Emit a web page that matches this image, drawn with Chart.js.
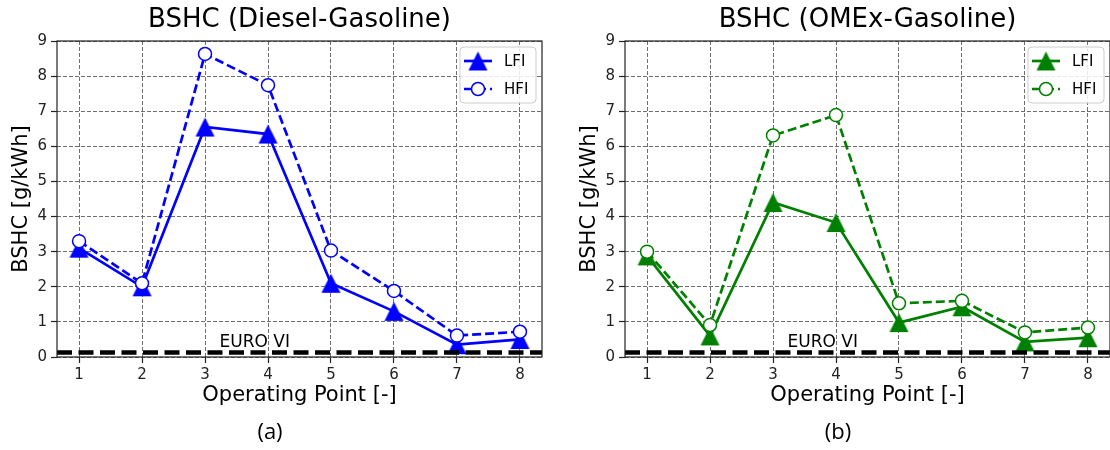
<!DOCTYPE html>
<html>
<head>
<meta charset="utf-8">
<title>BSHC</title>
<script src="https://cdn.jsdelivr.net/npm/chart.js"></script>
<style>
  body {
    margin: 0;
    width: 1110px;
    height: 450px;
    overflow: hidden;
    background: #ffffff;
    position: relative;
  }
  .panel {
    position: absolute;
    top: 0;
    width: 555px;
    height: 450px;
  }
  .caption {
    position: absolute;
    top: 415px;
    width: 100px;
    text-align: center;
    font-family: "Open Sans", sans-serif;
    font-size: 22px;
    line-height: 30px;
    color: #000;
  }
</style>
</head>
<body>
<div class="panel" style="left:0"><canvas id="chartA"></canvas></div>
<div class="panel" style="left:568px"><canvas id="chartB"></canvas></div>
<div class="caption" style="left:220px">(a)</div>
<div class="caption" style="left:788px">(b)</div>

<script>
  // values
  const operatingPoints = [1, 2, 3, 4, 5, 6, 7, 8];
  const dieselLFI = [3.1, 2.0, 6.55, 6.35, 2.1, 1.3, 0.35, 0.5];
  const dieselHFI = [3.3, 2.1, 8.63, 7.74, 3.03, 1.88, 0.61, 0.72];
  const omexLFI = [2.88, 0.6, 4.4, 3.83, 0.98, 1.43, 0.43, 0.55];
  const omexHFI = [3.0, 0.91, 6.31, 6.89, 1.53, 1.6, 0.7, 0.84];
  const yTicks = [0, 1, 2, 3, 4, 5, 6, 7, 8, 9];

  const EURO_VI_LIMIT = 0.13;
  const EURO_LABEL = 'EURO VI';
  const EURO_LABEL_X = 3.79;
  const EURO_LABEL_Y = 0.29;

  const FONT = '"DejaVu Sans", sans-serif';

  // matplotlib style '^' marker (square bbox, centred on the point)
  function triangleMarker(color, size) {
    const c = document.createElement('canvas');
    c.width = size + 2;
    c.height = size + 2;
    const g = c.getContext('2d');
    g.fillStyle = color;
    g.beginPath();
    g.moveTo(c.width / 2, 1);
    g.lineTo(c.width - 1, c.height - 1);
    g.lineTo(1, c.height - 1);
    g.closePath();
    g.fill();
    return c;
  }

  // spines + EURO VI limit line
  const framePlugin = {
    id: 'frame',
    afterDatasetsDraw(chart) {
      const { ctx, chartArea: a, scales } = chart;
      const yLim = scales.y.getPixelForValue(EURO_VI_LIMIT);
      ctx.save();
      ctx.strokeStyle = '#000';
      ctx.lineWidth = 4.5;
      ctx.setLineDash([15, 6.5]);
      ctx.beginPath();
      ctx.moveTo(a.left, yLim);
      ctx.lineTo(a.right, yLim);
      ctx.stroke();

      ctx.setLineDash([]);
      ctx.fillStyle = '#000';
      ctx.font = '17px ' + FONT;
      ctx.textAlign = 'center';
      ctx.textBaseline = 'alphabetic';
      ctx.fillText(EURO_LABEL, scales.x.getPixelForValue(EURO_LABEL_X), scales.y.getPixelForValue(EURO_LABEL_Y));

      ctx.strokeStyle = '#222';
      ctx.lineWidth = 1.2;
      ctx.strokeRect(a.left, a.top, a.right - a.left, a.bottom - a.top);
      ctx.restore();
    }
  };

  // legend box like matplotlib (line through marker)
  const mplLegend = {
    id: 'mplLegend',
    afterDraw(chart) {
      const { ctx, chartArea: a } = chart;
      const w = 76, h = 56;
      const bx = a.right - 6 - w, by = a.top + 6;
      ctx.save();
      ctx.fillStyle = 'rgba(255,255,255,0.85)';
      ctx.strokeStyle = '#cccccc';
      ctx.lineWidth = 1;
      ctx.beginPath();
      ctx.roundRect(bx, by, w, h, 4);
      ctx.fill();
      ctx.stroke();

      chart.data.datasets.forEach((ds, i) => {
        const cy = by + 14 + i * 28;
        const cx = bx + 18;
        ctx.strokeStyle = ds.borderColor;
        ctx.lineWidth = ds.borderWidth;
        ctx.setLineDash(ds.borderDash || []);
        ctx.beginPath();
        ctx.moveTo(bx + 4, cy);
        ctx.lineTo(bx + 32, cy);
        ctx.stroke();
        ctx.setLineDash([]);
        if (ds.pointStyle instanceof HTMLCanvasElement) {
          ctx.drawImage(ds.pointStyle, cx - ds.pointStyle.width / 2, cy - ds.pointStyle.height / 2);
        } else {
          ctx.fillStyle = ds.pointBackgroundColor;
          ctx.strokeStyle = ds.borderColor;
          ctx.lineWidth = ds.pointBorderWidth;
          ctx.beginPath();
          ctx.arc(cx, cy, ds.pointRadius, 0, Math.PI * 2);
          ctx.fill();
          ctx.stroke();
        }
        ctx.fillStyle = '#000';
        ctx.font = '15px ' + FONT;
        ctx.textAlign = 'left';
        ctx.textBaseline = 'middle';
        ctx.fillText(ds.label, bx + 44, cy + 1);
      });
      ctx.restore();
    }
  };

  function toPoints(values) {
    return operatingPoints.map((p, i) => ({ x: p, y: values[i] }));
  }

  function makeChart(id, title, lfi, hfi, color) {
    return new Chart(document.getElementById(id), {
      type: 'line',
      data: {
        datasets: [{
          label: 'LFI',
          data: toPoints(lfi),
          borderColor: color,
          borderWidth: 2.7,
          pointStyle: triangleMarker(color, 19),
          pointRadius: 10,
          order: 2
        }, {
          label: 'HFI',
          data: toPoints(hfi),
          borderColor: color,
          borderWidth: 2.7,
          borderDash: [9, 4],
          pointStyle: 'circle',
          pointRadius: 6.5,
          pointBorderWidth: 1.5,
          pointBackgroundColor: '#ffffff',
          pointBorderColor: color,
          order: 1
        }]
      },
      options: {
        responsive: true,
        maintainAspectRatio: false,
        animation: false,
        events: [],
        layout: { padding: { left: 0, right: 13, top: 0, bottom: 0 } },
        elements: { line: { tension: 0 } },
        scales: {
          x: {
            type: 'linear',
            min: 0.65,
            max: 8.35,
            afterBuildTicks: s => { s.ticks = operatingPoints.map(v => ({ value: v })); },
            afterFit: s => { s.height = 93; },
            ticks: { stepSize: 1, font: { family: FONT, size: 15 }, color: '#222', padding: 3, maxRotation: 0 },
            grid: { color: '#6e6e6e', lineWidth: 1, tickLength: 6, tickColor: '#222', tickWidth: 1.2, tickBorderDash: [] },
            border: { display: false, dash: [4, 2] },
            title: { display: true, text: 'Operating Point [-]', color: '#000', font: { family: FONT, size: 21 }, padding: { top: 0, bottom: 42 } }
          },
          y: {
            min: 0,
            max: 9,
            afterBuildTicks: s => { s.ticks = yTicks.map(v => ({ value: v })); },
            afterFit: s => { s.width = 57; },
            ticks: { stepSize: 1, font: { family: FONT, size: 15 }, color: '#222', padding: 4 },
            grid: { color: '#6e6e6e', lineWidth: 1, tickLength: 6, tickColor: '#222', tickWidth: 1.2, tickBorderDash: [] },
            border: { display: false, dash: [4, 2] },
            title: { display: true, text: 'BSHC [g/kWh]', color: '#000', font: { family: FONT, size: 21 }, padding: { top: 8.5, bottom: 0 } }
          }
        },
        plugins: {
          legend: { display: false },
          tooltip: { enabled: false },
          title: {
            display: true,
            text: title,
            fullSize: false,
            color: '#000',
            font: { family: FONT, size: 26, weight: 'normal' },
            padding: { top: 4.4, bottom: 5.4 }
          }
        }
      },
      plugins: [framePlugin, mplLegend]
    });
  }

  makeChart('chartA', 'BSHC (Diesel-Gasoline)', dieselLFI, dieselHFI, '#0000ff');
  makeChart('chartB', 'BSHC (OMEx-Gasoline)', omexLFI, omexHFI, '#008000');
</script>
</body>
</html>
